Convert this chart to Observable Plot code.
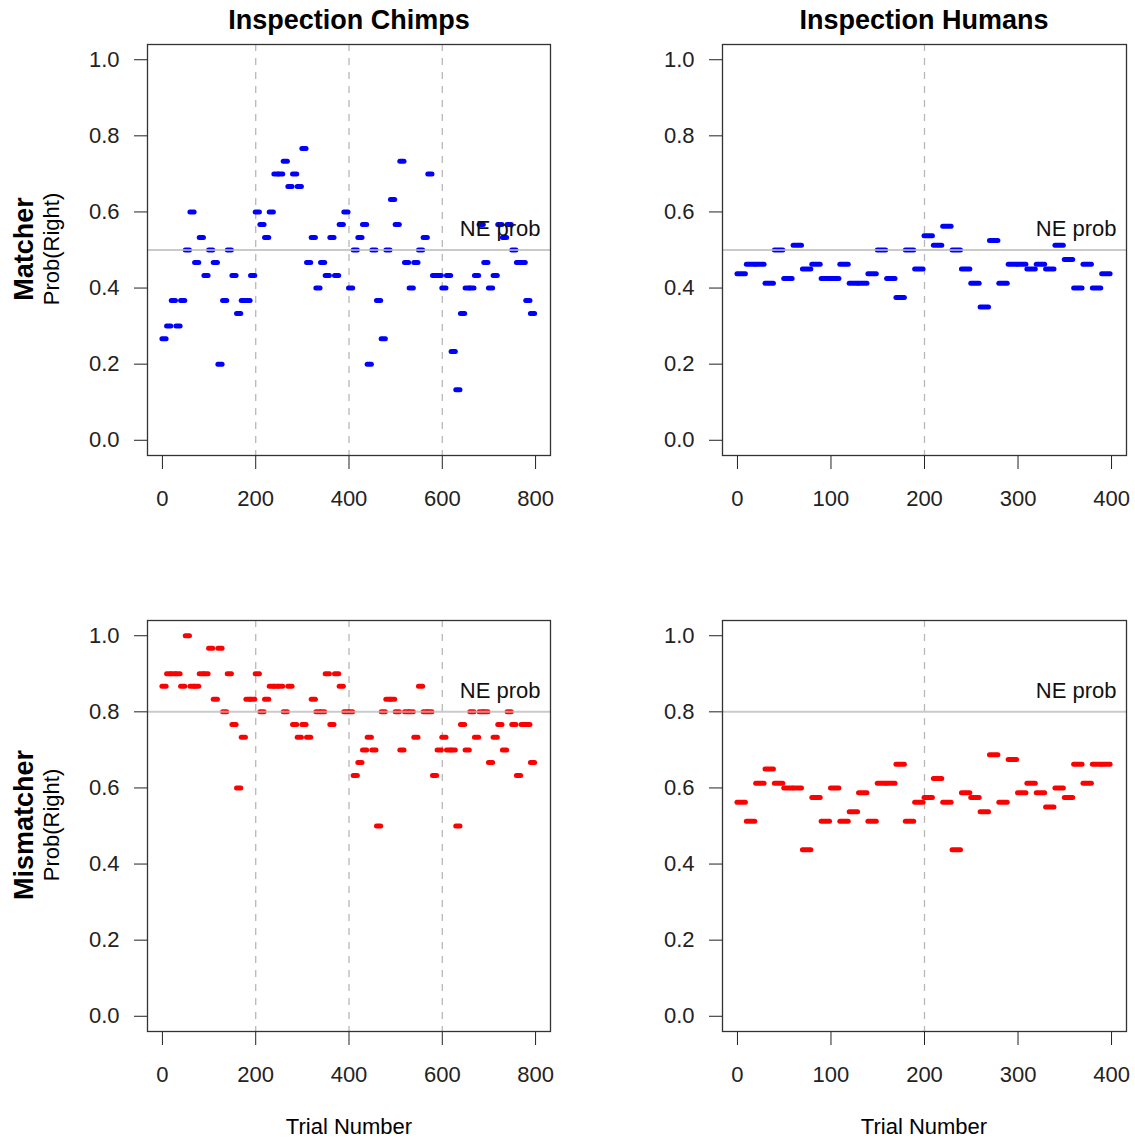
<!DOCTYPE html>
<html>
<head>
<meta charset="utf-8">
<script src="https://cdn.jsdelivr.net/npm/d3@7"></script>
<script src="https://cdn.jsdelivr.net/npm/@observablehq/plot@0.6"></script>
<style>
  body { margin: 0; background: #fff; }
  #fig { position: relative; width: 1135px; height: 1141px; font-family: "Liberation Sans", Arial, sans-serif; color: #000; background: #fff; }
  .panel { position: absolute; }
  .lbl { position: absolute; white-space: nowrap; line-height: 1; transform: translate(-50%, -50%); }
  .title { font-weight: bold; font-size: 27px; }
  .row { font-weight: bold; font-size: 27px; transform: translate(-50%, -50%) rotate(-90deg); }
  .sub { font-size: 22px; transform: translate(-50%, -50%) rotate(-90deg); }
  .xlab { font-size: 22px; }
</style>
</head>
<body>
<div id="fig">
  <div class="lbl title" style="left:349px;top:20px">Inspection Chimps</div>
  <div class="lbl title" style="left:924px;top:20px">Inspection Humans</div>
  <div class="lbl row" style="left:24px;top:249px">Matcher</div>
  <div class="lbl sub" style="left:52px;top:249px">Prob(Right)</div>
  <div class="lbl row" style="left:24px;top:825px">Mismatcher</div>
  <div class="lbl sub" style="left:52px;top:825px">Prob(Right)</div>
  <div class="lbl xlab" style="left:349px;top:1127px">Trial Number</div>
  <div class="lbl xlab" style="left:924px;top:1127px">Trial Number</div>
</div>
<script>
// Proportion of "Right" choices in consecutive 10-trial blocks
const blockSize = 10;

const chimpMatcher = [
  0.267, 0.3, 0.367, 0.3, 0.367, 0.5, 0.6, 0.467, 0.533, 0.433,
  0.5, 0.467, 0.2, 0.367, 0.5, 0.433, 0.333, 0.367, 0.367, 0.433,
  0.6, 0.567, 0.533, 0.6, 0.7, 0.7, 0.733, 0.667, 0.7, 0.667,
  0.767, 0.467, 0.533, 0.4, 0.467, 0.433, 0.533, 0.433, 0.567, 0.6,
  0.4, 0.5, 0.533, 0.567, 0.2, 0.5, 0.367, 0.267, 0.5, 0.633,
  0.567, 0.733, 0.467, 0.4, 0.467, 0.5, 0.533, 0.7, 0.433, 0.433,
  0.4, 0.433, 0.233, 0.133, 0.333, 0.4, 0.4, 0.433, 0.567, 0.467,
  0.4, 0.433, 0.567, 0.533, 0.567, 0.5, 0.467, 0.467, 0.367, 0.333
];

const chimpMismatcher = [
  0.867, 0.9, 0.9, 0.9, 0.867, 1.0, 0.867, 0.867, 0.9, 0.9,
  0.967, 0.833, 0.967, 0.8, 0.9, 0.767, 0.6, 0.733, 0.833, 0.833,
  0.9, 0.8, 0.833, 0.867, 0.867, 0.867, 0.8, 0.867, 0.767, 0.733,
  0.767, 0.733, 0.833, 0.8, 0.8, 0.9, 0.767, 0.9, 0.867, 0.8,
  0.8, 0.633, 0.667, 0.7, 0.733, 0.7, 0.5, 0.8, 0.833, 0.833,
  0.8, 0.7, 0.8, 0.8, 0.733, 0.867, 0.8, 0.8, 0.633, 0.7,
  0.733, 0.7, 0.7, 0.5, 0.767, 0.7, 0.8, 0.733, 0.8, 0.8,
  0.667, 0.733, 0.767, 0.7, 0.8, 0.767, 0.633, 0.767, 0.767, 0.667
];

const humanMatcher = [
  0.4375, 0.4625, 0.4625, 0.4125, 0.5, 0.425, 0.5125, 0.45, 0.4625, 0.425,
  0.425, 0.4625, 0.4125, 0.4125, 0.4375, 0.5, 0.425, 0.375, 0.5, 0.45,
  0.5375, 0.5125, 0.5625, 0.5, 0.45, 0.4125, 0.35, 0.525, 0.4125, 0.4625,
  0.4625, 0.45, 0.4625, 0.45, 0.5125, 0.475, 0.4, 0.4625, 0.4, 0.4375
];

const humanMismatcher = [
  0.5625, 0.5125, 0.6125, 0.65, 0.6125, 0.6, 0.6, 0.4375, 0.575, 0.5125,
  0.6, 0.5125, 0.5375, 0.5875, 0.5125, 0.6125, 0.6125, 0.6625, 0.5125, 0.5625,
  0.575, 0.625, 0.5625, 0.4375, 0.5875, 0.575, 0.5375, 0.6875, 0.5625, 0.675,
  0.5875, 0.6125, 0.5875, 0.55, 0.6, 0.575, 0.6625, 0.6125, 0.6625, 0.6625
];

// Nash-equilibrium probability of choosing Right, per role
const neMatcher = 0.5;
const neMismatcher = 0.8;
const neLabel = "NE prob";

// Axis ticks and session boundaries
const yTicks = [0, 0.2, 0.4, 0.6, 0.8, 1.0];
const chimpTicks = [0, 200, 400, 600, 800];
const humanTicks = [0, 100, 200, 300, 400];
const chimpBreaks = [200, 400, 600];
const humanBreaks = [200];

const FONT = '"Liberation Sans", Arial, sans-serif';

function panel({values, color, ne, xDomain, xTicks, breaks, width, marginRight}) {
  const blocks = values.map((v, i) => ({
    start: i * blockSize,
    end: i * blockSize + blockSize - 1,
    value: v
  }));
  return Plot.plot({
    width,
    height: 566,
    marginTop: 44,
    marginBottom: 111,
    marginLeft: 147,
    marginRight,
    style: {fontFamily: FONT, fontSize: "22px", color: "#222", background: "transparent", overflow: "visible"},
    x: {domain: xDomain, ticks: xTicks, tickSize: 14, tickPadding: 21, label: null},
    y: {domain: [-0.04, 1.04], ticks: yTicks, tickFormat: d3.format(".1f"), tickSize: 13, tickPadding: 15, label: null},
    marks: [
      Plot.ruleX(breaks, {stroke: "#b8b8b8", strokeWidth: 1.3, strokeDasharray: "7,7"}),
      Plot.ruleY(blocks, {y: "value", x1: "start", x2: "end", stroke: color, strokeWidth: 5, strokeLinecap: "round"}),
      Plot.ruleY([ne], {stroke: "#bdbdbd", strokeWidth: 2, strokeOpacity: 0.8}),
      Plot.text([ne], {y: d => d + 0.056, text: () => neLabel, frameAnchor: "right", dx: -10,
        textAnchor: "end", fill: "#111", fontSize: 22}),
      Plot.frame({stroke: "#333", strokeWidth: 1.3})
    ]
  });
}

const specs = [
  {values: chimpMatcher, color: "#0000ff", ne: neMatcher, xDomain: [-32, 832], xTicks: chimpTicks, breaks: chimpBreaks, left: 0, top: 0, width: 570, marginRight: 20},
  {values: humanMatcher, color: "#0000ff", ne: neMatcher, xDomain: [-16, 416], xTicks: humanTicks, breaks: humanBreaks, left: 575, top: 0, width: 560, marginRight: 9},
  {values: chimpMismatcher, color: "#ff0000", ne: neMismatcher, xDomain: [-32, 832], xTicks: chimpTicks, breaks: chimpBreaks, left: 0, top: 576, width: 570, marginRight: 20},
  {values: humanMismatcher, color: "#ff0000", ne: neMismatcher, xDomain: [-16, 416], xTicks: humanTicks, breaks: humanBreaks, left: 575, top: 576, width: 560, marginRight: 9}
];

const fig = document.getElementById("fig");
for (const s of specs) {
  const wrap = document.createElement("div");
  wrap.className = "panel";
  wrap.style.left = s.left + "px";
  wrap.style.top = s.top + "px";
  wrap.appendChild(panel(s));
  fig.insertBefore(wrap, fig.firstChild);
}
</script>
</body>
</html>
